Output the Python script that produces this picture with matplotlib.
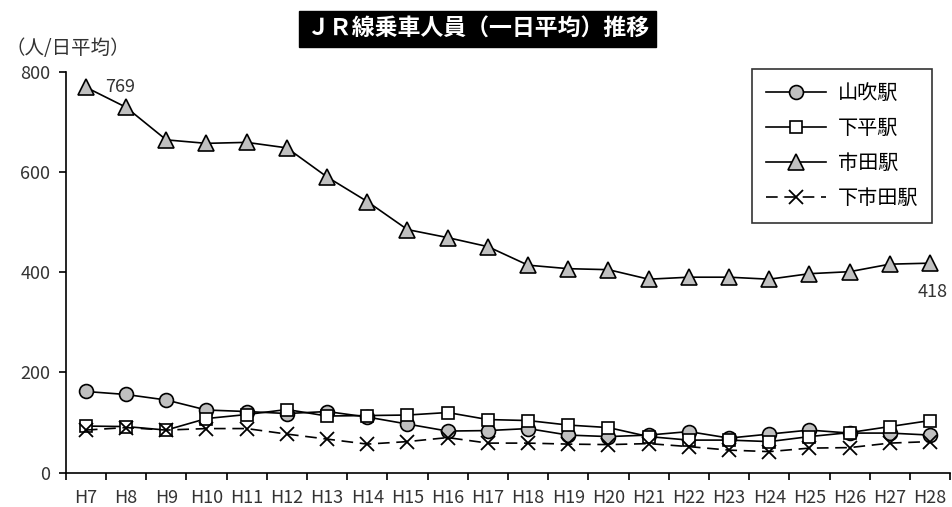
import matplotlib
matplotlib.use("Agg")
import matplotlib.pyplot as plt
from matplotlib.ticker import FixedLocator, NullFormatter

plt.rcParams['font.family'] = ['Noto Sans CJK JP', 'DejaVu Sans']

# 年度 (平成)
years = ["H7", "H8", "H9", "H10", "H11", "H12", "H13", "H14", "H15", "H16", "H17",
         "H18", "H19", "H20", "H21", "H22", "H23", "H24", "H25", "H26", "H27", "H28"]

# 一日平均乗車人員
yamabuki = [162, 156, 145, 125, 122, 118, 122, 111, 97, 83, 84,
            88, 75, 72, 75, 82, 69, 77, 85, 79, 79, 75]
shimodaira = [93, 92, 85, 108, 116, 126, 113, 114, 115, 120, 106,
              104, 95, 90, 72, 65, 65, 62, 72, 80, 92, 104]
ichida = [769, 729, 664, 657, 659, 648, 590, 541, 485, 469, 451,
          414, 407, 405, 386, 390, 390, 386, 397, 401, 416, 418]
shimoichida = [85, 90, 85, 88, 88, 77, 67, 57, 62, 70, 59,
               59, 57, 56, 58, 52, 45, 42, 49, 50, 59, 62]

series_names = ["山吹駅", "下平駅", "市田駅", "下市田駅"]

fig = plt.figure(figsize=(9.53, 5.07), dpi=100)
ax = fig.add_axes([0.069, 0.0677, 0.928, 0.7909])

x = list(range(len(years)))
gray = "#c0c0c0"

ax.plot(x, yamabuki, color="black", lw=1.2, marker="o", ms=10,
        mfc=gray, mec="black", mew=1.2, label=series_names[0])
ax.plot(x, shimodaira, color="black", lw=1.2, marker="s", ms=9,
        mfc="white", mec="black", mew=1.2, label=series_names[1])
ax.plot(x, ichida, color="black", lw=1.2, marker="^", ms=11,
        mfc=gray, mec="black", mew=1.2, label=series_names[2])
ax.plot(x, shimoichida, color="black", lw=1.2, ls=(0, (7, 4)), marker="x", ms=10,
        mec="black", mew=1.3, label=series_names[3])

# データラベル (最初と最後)
ax.annotate(str(ichida[0]), (x[0], ichida[0]), xytext=(14, 0), textcoords="offset points",
            fontsize=13, va="center", ha="left", color="#333333")
ax.annotate(str(ichida[-1]), (x[-1], ichida[-1]), xytext=(2, -14), textcoords="offset points",
            fontsize=13, va="top", ha="center", color="#333333")

ax.set_xlim(-0.5, len(years) - 0.5)
ax.set_ylim(0, 800)
ax.set_yticks([0, 200, 400, 600, 800])
ax.set_xticks(x)
ax.set_xticklabels(years)
ax.xaxis.set_minor_locator(FixedLocator([i - 0.5 for i in range(len(years) + 1)]))
ax.xaxis.set_minor_formatter(NullFormatter())
ax.tick_params(axis="x", which="major", length=0, pad=12, labelsize=13, colors="#333333")
ax.tick_params(axis="x", which="minor", length=5, width=1.2, direction="out")
ax.tick_params(axis="y", length=5, width=1.2, direction="out", labelsize=13, pad=6,
               labelcolor="#333333")
for side in ["top", "right"]:
    ax.spines[side].set_visible(False)
ax.spines["left"].set_linewidth(1.2)
ax.spines["bottom"].set_linewidth(1.2)

leg = ax.legend(loc="upper right", bbox_to_anchor=(0.9796, 1.007), prop={"size": 14.5},
                frameon=True, fancybox=False, edgecolor="black", handlelength=3.0,
                labelspacing=0.7, borderpad=0.7, borderaxespad=0.0, handletextpad=0.55)
leg.get_frame().set_linewidth(1.2)

fig.text(0.006, 0.905, "（人/日平均）", fontsize=14, va="center", ha="left",
         color="#333333")

fig.text(0.501, 0.943, "ＪＲ線乗車人員（一日平均）推移", fontsize=16.5,
         fontweight="bold", color="white", ha="center", va="center",
         bbox=dict(facecolor="black", edgecolor="black", boxstyle="square,pad=0.3"))

fig.savefig("out.png", dpi=100)
